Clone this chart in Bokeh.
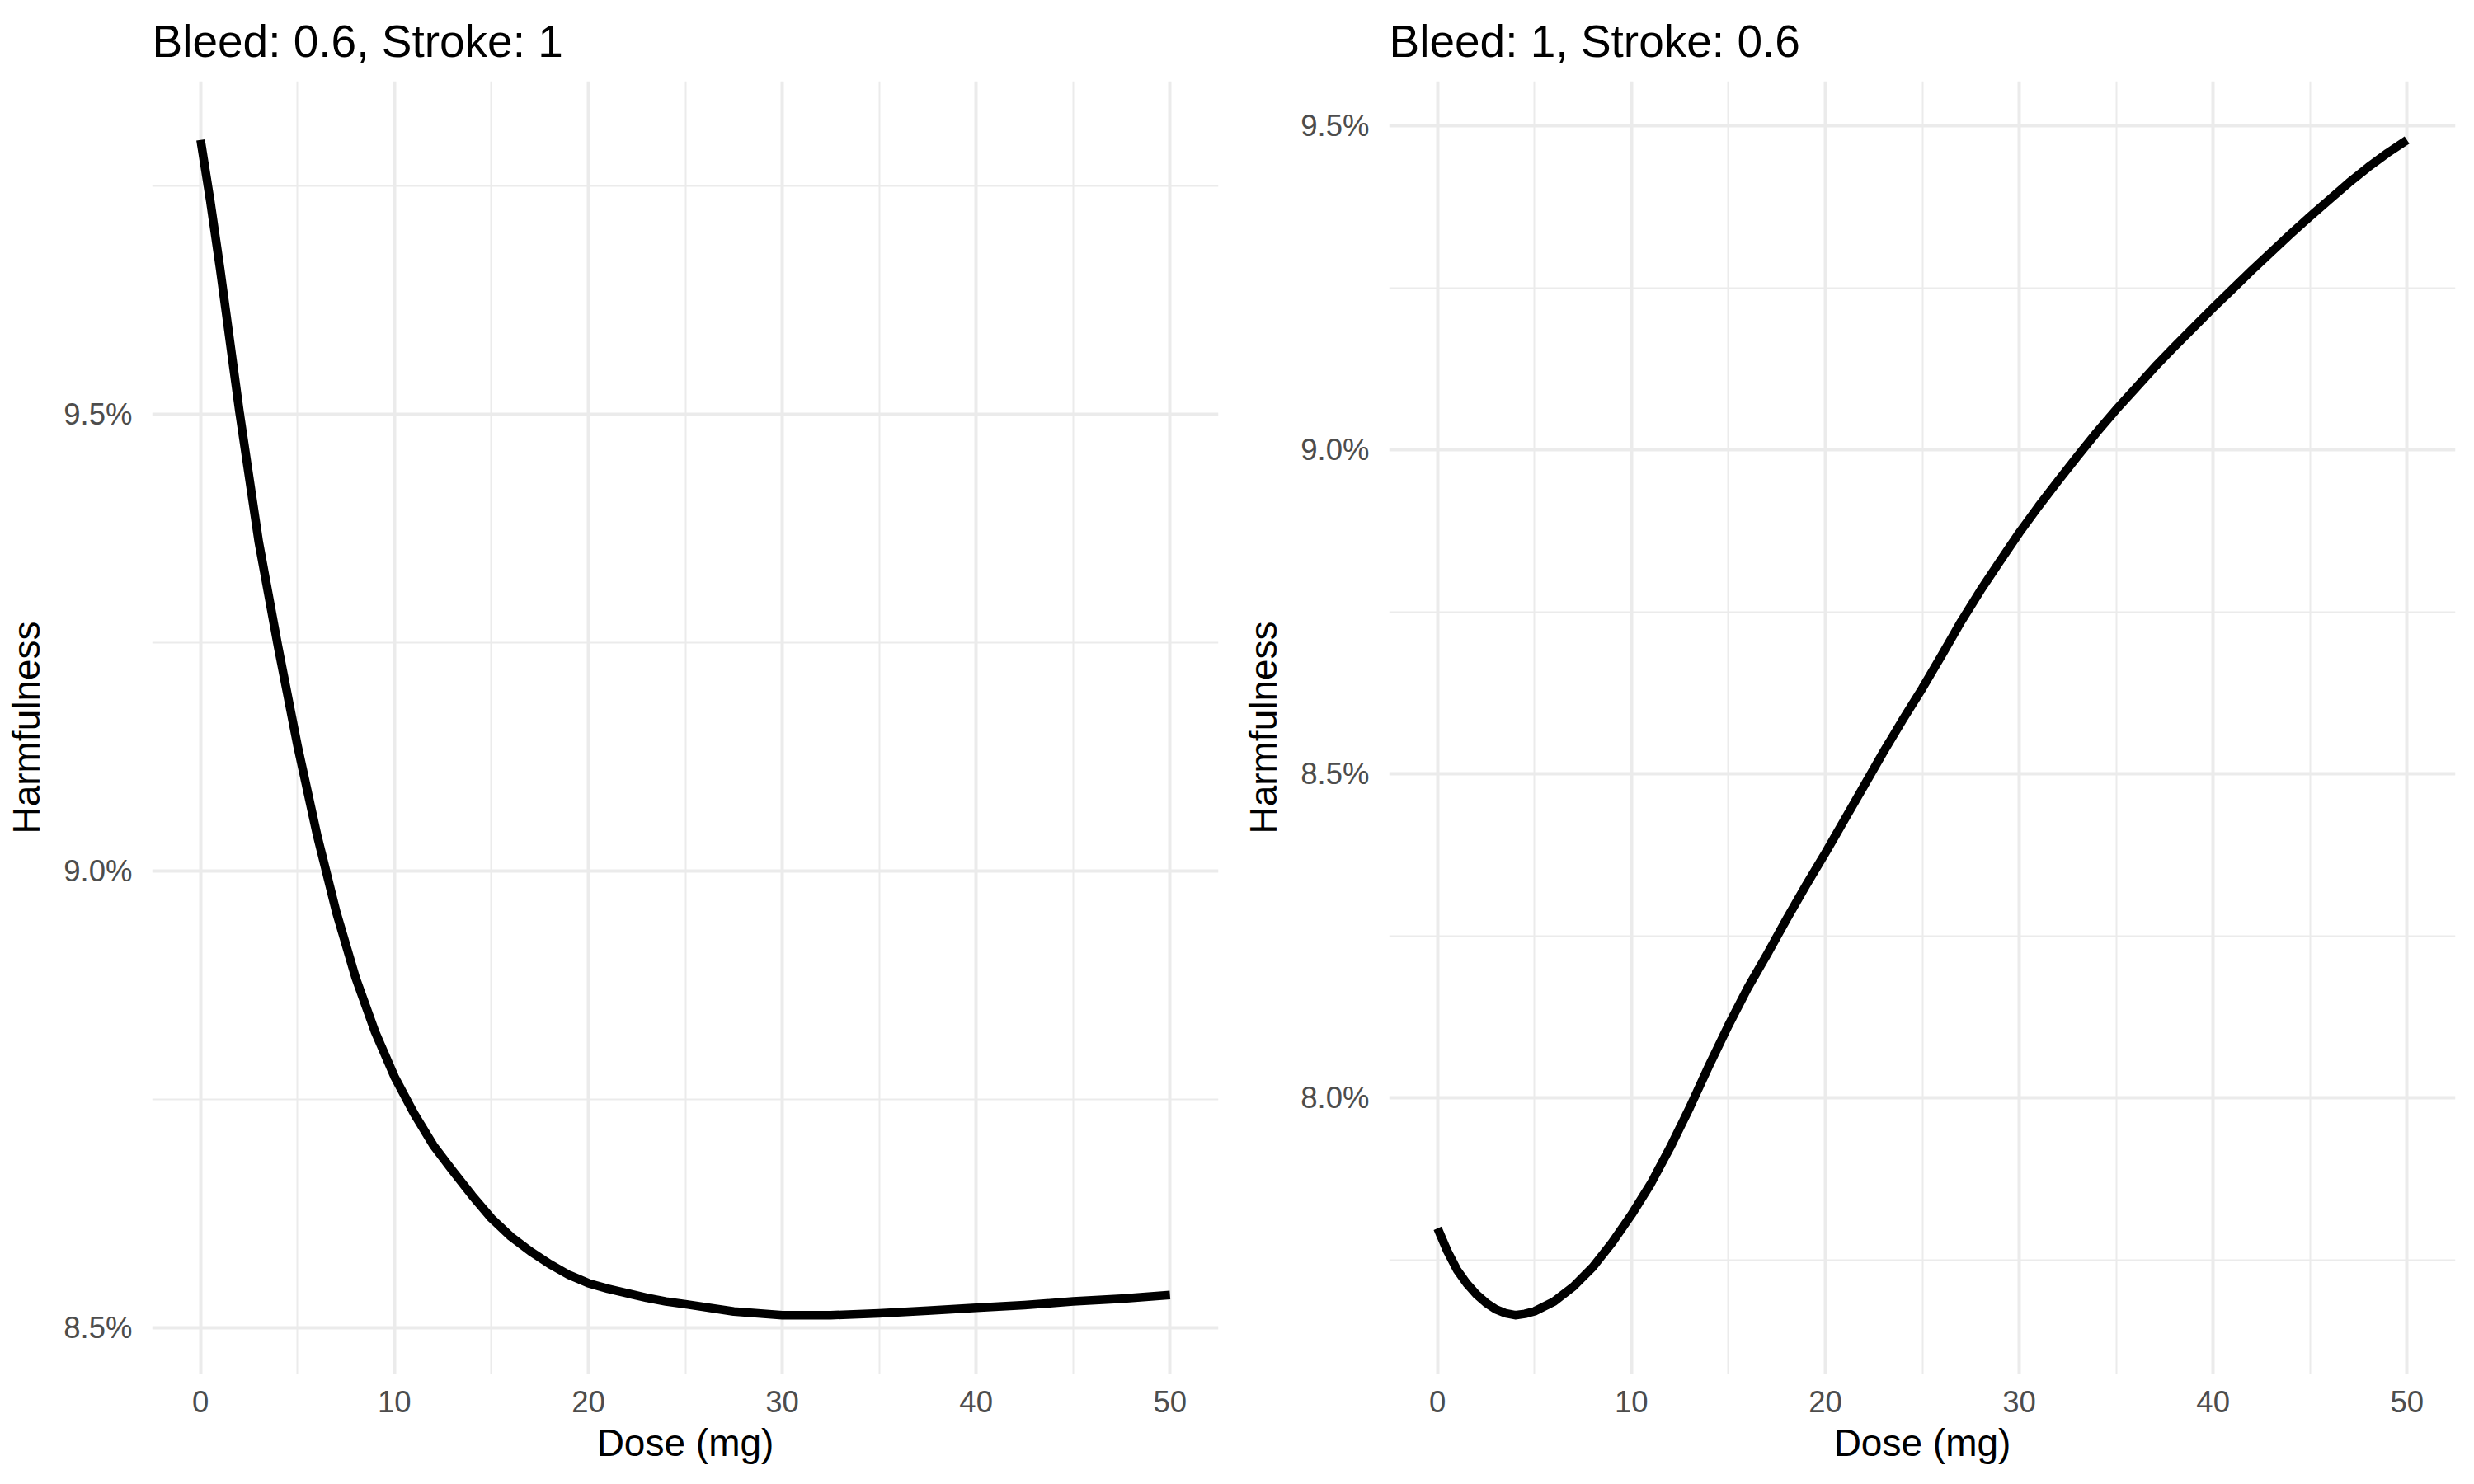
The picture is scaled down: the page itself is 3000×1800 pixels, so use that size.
from bokeh.plotting import figure
from bokeh.layouts import row
from bokeh.models import Range1d, FixedTicker, PrintfTickFormatter, Title
from bokeh.embed import file_html
from bokeh.resources import INLINE

# ---- data ----
dose_a = [0, 0.5, 1, 2, 3, 4, 5, 6, 7, 8, 9, 10, 11, 12, 13, 14, 15, 16, 17,
          18, 19, 20, 21, 22, 23, 24, 25, 27.5, 30, 32.5, 35, 37.5, 40, 42.5,
          45, 47.5, 50]
harm_a = [9.800, 9.733, 9.660, 9.503, 9.360, 9.245, 9.137, 9.040, 8.955, 8.883,
          8.824, 8.775, 8.735, 8.700, 8.672, 8.645, 8.620, 8.600, 8.584, 8.570,
          8.558, 8.549, 8.543, 8.538, 8.533, 8.529, 8.526, 8.518, 8.514, 8.514,
          8.516, 8.519, 8.522, 8.525, 8.529, 8.532, 8.536]

dose_b = [0, 0.5, 1, 1.5, 2, 2.5, 3, 3.5, 4, 4.5, 5, 6, 7, 8, 9, 10, 11, 12,
          13, 14, 15, 16, 17, 18, 19, 20, 21, 22, 23, 24, 25, 26, 27, 28, 29,
          30, 31, 32, 33, 34, 35, 36, 37, 38, 39, 40, 41, 42, 43, 44, 45, 46,
          47, 48, 49, 50]
harm_b = [7.799, 7.764, 7.735, 7.714, 7.697, 7.684, 7.674, 7.668, 7.665, 7.667,
          7.671, 7.686, 7.709, 7.739, 7.777, 7.820, 7.868, 7.924, 7.985, 8.050,
          8.112, 8.170, 8.222, 8.276, 8.328, 8.378, 8.430, 8.482, 8.534, 8.584,
          8.632, 8.683, 8.735, 8.783, 8.828, 8.872, 8.913, 8.952, 8.990, 9.027,
          9.062, 9.095, 9.128, 9.159, 9.189, 9.219, 9.248, 9.277, 9.305, 9.333,
          9.360, 9.386, 9.412, 9.436, 9.458, 9.478]

titles = ["Bleed: 0.6, Stroke: 1", "Bleed: 1, Stroke: 0.6"]
x_ticks = [0, 10, 20, 30, 40, 50]
x_minor = [5, 15, 25, 35, 45]
y_ticks_a = [8.5, 9.0, 9.5]
y_minor_a = [8.75, 9.25, 9.75]
y_ticks_b = [8.0, 8.5, 9.0, 9.5]
y_minor_b = [7.75, 8.25, 8.75, 9.25]

FONT = "Liberation Sans"
GRID = "#EBEBEB"


def panel(xs, ys, title, yt, ym, left_border, right_border, width):
    lo, hi = min(ys), max(ys)
    pad = (hi - lo) * 0.05
    p = figure(width=width, height=1784, output_backend="svg",
               toolbar_location=None,
               x_range=Range1d(-2.5, 52.5),
               y_range=Range1d(lo - pad, hi + pad),
               min_border_left=left_border, min_border_right=right_border,
               min_border_top=98, min_border_bottom=118)
    p.title = Title(text=title, text_font=FONT, text_font_size="55px",
                    text_font_style="normal", text_color="black",
                    vertical_align="top",
                    align="left", standoff=32, offset=0)
    p.outline_line_color = None
    p.background_fill_color = "white"
    p.border_fill_color = "white"

    p.xaxis.ticker = FixedTicker(ticks=x_ticks, minor_ticks=x_minor)
    p.yaxis.ticker = FixedTicker(ticks=yt, minor_ticks=ym)
    p.yaxis.formatter = PrintfTickFormatter(format="%.1f%%")

    for ax in (p.xaxis, p.yaxis):
        ax.axis_line_color = None
        ax.major_tick_line_color = None
        ax.minor_tick_line_color = None
        ax.major_tick_in = 0
        ax.major_tick_out = 0
        ax.minor_tick_in = 0
        ax.minor_tick_out = 0
        ax.major_label_text_font = FONT
        ax.major_label_text_font_size = "36.5px"
        ax.major_label_text_color = "#4D4D4D"
        ax.axis_label_text_font = FONT
        ax.axis_label_text_font_size = "46px"
        ax.axis_label_text_font_style = "normal"
        ax.axis_label_text_color = "black"

    p.xaxis.axis_label = "Dose (mg)"
    p.yaxis.axis_label = "Harmfulness"
    p.xaxis.major_label_standoff = 20
    p.xaxis.axis_label_standoff = 8
    p.yaxis.major_label_standoff = 24
    p.yaxis.axis_label_standoff = 16

    for g in (p.xgrid, p.ygrid):
        g.grid_line_color = GRID
        g.grid_line_width = 4
        g.minor_grid_line_color = GRID
        g.minor_grid_line_width = 2

    p.line(xs, ys, line_color="black", line_width=10.5, line_join="round")
    return p


p1 = panel(dose_a, harm_a, titles[0], y_ticks_a, y_minor_a, 184, 15, 1492)
p2 = panel(dose_b, harm_b, titles[1], y_ticks_b, y_minor_b, 192, 7, 1492)

layout = row(p1, p2)
open("out.html", "w").write(file_html(layout, INLINE))
